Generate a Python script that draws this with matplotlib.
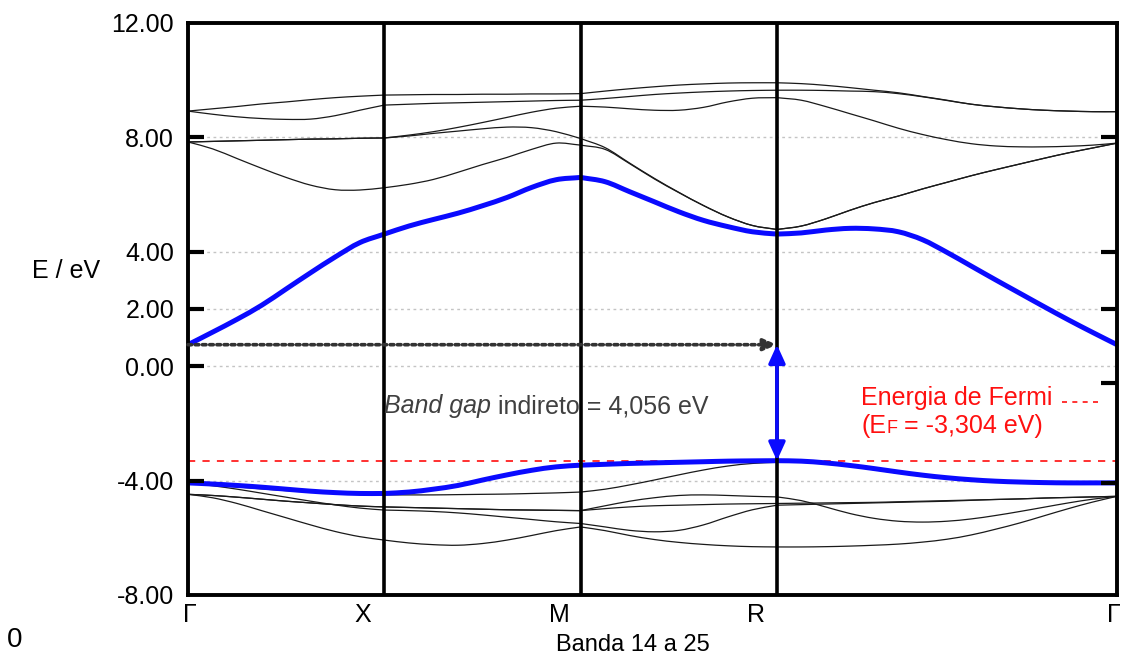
import numpy as np
import matplotlib
matplotlib.use("Agg")
import matplotlib.pyplot as plt
from matplotlib.path import Path
from matplotlib.patches import PathPatch
import matplotlib.transforms as mtransforms

plt.rcParams['font.family'] = ['Liberation Sans', 'DejaVu Sans']

# high-symmetry path of the simple cubic Brillouin zone
sym_labels = ['Γ', 'X', 'M', 'R', 'Γ']
sym_k = [0.0, 0.5, 1.0, 1.5, 1.5 + np.sqrt(3) / 2]
seg_steps = [8, 8, 8, 14]          # samples per segment

# band energies (eV) along Γ-X | X-M | M-R | R-Γ
band_A = [8.92, 9.00, 9.08, 9.17, 9.24, 9.32, 9.39, 9.44, 9.48,
          9.49, 9.50, 9.50, 9.51, 9.51, 9.52, 9.52, 9.53,
          9.62, 9.70, 9.77, 9.83, 9.87, 9.90, 9.91, 9.91,
          9.88, 9.82, 9.74, 9.65, 9.56, 9.43, 9.30, 9.16, 9.07, 9.00, 8.95, 8.92, 8.90, 8.90]
band_B = [8.92, 8.81, 8.72, 8.66, 8.63, 8.64, 8.76, 8.95, 9.13,
          9.16, 9.19, 9.21, 9.23, 9.25, 9.27, 9.29, 9.30,
          9.36, 9.43, 9.50, 9.55, 9.59, 9.62, 9.64, 9.65,
          9.65, 9.64, 9.62, 9.60, 9.53, 9.42, 9.29, 9.16, 9.07, 9.00, 8.95, 8.92, 8.90, 8.90]
band_C1 = [7.84, 7.86, 7.88, 7.90, 7.92, 7.94, 7.95, 7.97, 7.98,
           8.08, 8.20, 8.35, 8.52, 8.70, 8.88, 9.02, 9.09,
           9.06, 9.00, 8.95, 8.95, 9.05, 9.24, 9.37, 9.39,
           9.30, 9.08, 8.83, 8.58, 8.32, 8.10, 7.92, 7.78, 7.70, 7.67, 7.67, 7.69, 7.73, 7.80]
band_C2 = [7.84, 7.86, 7.88, 7.90, 7.92, 7.94, 7.95, 7.97, 7.98,
           8.05, 8.14, 8.22, 8.30, 8.36, 8.34, 8.20, 7.96,
           7.64, 7.10, 6.57, 6.08, 5.62, 5.22, 4.92, 4.78,
           4.90, 5.15, 5.45, 5.72, 5.95, 6.20, 6.43, 6.66, 6.87, 7.07, 7.27, 7.46, 7.63, 7.80]
band_D = [7.84, 7.60, 7.26, 6.92, 6.60, 6.33, 6.17, 6.16, 6.24,
          6.36, 6.53, 6.78, 7.05, 7.30, 7.58, 7.80, 7.73,
          7.58, 7.08, 6.55, 6.07, 5.62, 5.22, 4.92, 4.78,
          4.90, 5.15, 5.45, 5.72, 5.95, 6.20, 6.43, 6.66, 6.87, 7.07, 7.27, 7.46, 7.63, 7.80]
band_CB = [0.752, 1.19, 1.64, 2.13, 2.70, 3.27, 3.82, 4.32, 4.62,
           4.90, 5.13, 5.35, 5.61, 5.90, 6.25, 6.52, 6.60,
           6.45, 6.10, 5.75, 5.40, 5.10, 4.88, 4.70, 4.62,
           4.66, 4.76, 4.82, 4.80, 4.70, 4.42, 3.98, 3.50, 3.02, 2.55, 2.08, 1.62, 1.18, 0.752]
band_VB = [-4.08, -4.12, -4.17, -4.23, -4.30, -4.37, -4.42, -4.45, -4.45,
           -4.40, -4.30, -4.17, -3.98, -3.80, -3.64, -3.52, -3.46,
           -3.43, -3.40, -3.38, -3.36, -3.34, -3.32, -3.31, -3.304,
           -3.32, -3.38, -3.47, -3.58, -3.70, -3.81, -3.90, -3.97, -4.02, -4.05, -4.07, -4.08, -4.08, -4.08]
band_V2 = [-4.08, -4.15, -4.22, -4.29, -4.35, -4.40, -4.45, -4.48, -4.50,
           -4.50, -4.50, -4.49, -4.48, -4.47, -4.45, -4.43, -4.40,
           -4.30, -4.15, -3.98, -3.80, -3.63, -3.49, -3.40, -3.36,
           -3.36, -3.40, -3.50, -3.62, -3.74, -3.85, -3.94, -4.00, -4.04, -4.06, -4.08, -4.08, -4.08, -4.08]
band_V3 = [-4.48, -4.52, -4.58, -4.65, -4.72, -4.78, -4.84, -4.89, -4.92,
           -4.94, -4.96, -4.98, -5.00, -5.02, -5.03, -5.04, -5.05,
           -4.88, -4.72, -4.60, -4.52, -4.50, -4.52, -4.55, -4.57,
           -4.70, -4.92, -5.15, -5.32, -5.42, -5.45, -5.42, -5.34, -5.22, -5.08, -4.93, -4.78, -4.65, -4.55]
band_V4 = [-4.48, -4.52, -4.58, -4.65, -4.72, -4.78, -4.84, -4.89, -4.92,
           -4.94, -4.96, -4.98, -5.00, -5.02, -5.03, -5.04, -5.05,
           -4.98, -4.92, -4.88, -4.86, -4.84, -4.82, -4.81, -4.80,
           -4.79, -4.78, -4.77, -4.76, -4.74, -4.72, -4.70, -4.68, -4.66, -4.64, -4.61, -4.59, -4.57, -4.55]
band_V5 = [-4.48, -4.60, -4.80, -5.05, -5.30, -5.55, -5.78, -5.96, -6.08,
           -6.18, -6.24, -6.26, -6.20, -6.08, -5.92, -5.75, -5.62,
           -5.75, -5.92, -6.06, -6.16, -6.23, -6.28, -6.31, -6.32,
           -6.32, -6.31, -6.29, -6.26, -6.22, -6.15, -6.05, -5.90, -5.70, -5.48, -5.23, -4.98, -4.75, -4.55]
band_V6 = [-4.08, -4.18, -4.30, -4.44, -4.58, -4.72, -4.85, -4.96, -5.03,
           -5.05, -5.08, -5.13, -5.20, -5.28, -5.36, -5.44, -5.50,
           -5.62, -5.74, -5.79, -5.74, -5.55, -5.27, -5.02, -4.86,
           -4.84, -4.82, -4.80, -4.78, -4.76, -4.74, -4.72, -4.69, -4.66, -4.64, -4.61, -4.59, -4.57, -4.55]

thin_bands = [band_A, band_B, band_C1, band_C2, band_D,
              band_V2, band_V3, band_V4, band_V5, band_V6]
bold_bands = [band_CB, band_VB]

E_fermi = -3.304
gap = 4.056
E_cbm = E_fermi + gap

y_ticks = [12, 8, 4, 2, 0, -4, -8]
y_grid = [8, 4, 2, 0, -4]
right_ticks = [8, 4, 2, -0.6, -4.1]


def k_axis():
    ks = [sym_k[0]]
    for a, b, n in zip(sym_k[:-1], sym_k[1:], seg_steps):
        ks.extend(list(np.linspace(a, b, n + 1)[1:]))
    return np.array(ks)


def smooth_path(ks, es):
    """Cubic Bezier path through the samples, broken at high-symmetry points."""
    verts = [(ks[0], es[0])]
    codes = [Path.MOVETO]
    start = 0
    for n in seg_steps:
        xs = ks[start:start + n + 1]
        ys = np.asarray(es[start:start + n + 1], float)
        dx = np.gradient(xs)
        dy = np.gradient(ys)
        for i in range(n):
            h = xs[i + 1] - xs[i]
            s0 = dy[i] / dx[i]
            s1 = dy[i + 1] / dx[i + 1]
            verts += [(xs[i] + h / 3, ys[i] + s0 * h / 3),
                      (xs[i + 1] - h / 3, ys[i + 1] - s1 * h / 3),
                      (xs[i + 1], ys[i + 1])]
            codes += [Path.CURVE4] * 3
        start += n
    return Path(verts, codes)


fig = plt.figure(figsize=(11.22, 6.57), dpi=100)
ax = fig.add_axes([188 / 1122, 62 / 657, 929 / 1122, 572 / 657])
ax.set_xlim(sym_k[0], sym_k[-1])
ax.set_ylim(-8, 12)
renderer = fig.canvas.get_renderer()


def run_text(x, y, pieces):
    """Write styled pieces one after another on a common baseline (data coords)."""
    x_disp, y_disp = ax.transData.transform((x, y))
    for txt, kw in pieces:
        t = ax.text(x_disp, y_disp, txt, transform=None, ha='left', va='baseline', **kw)
        x_disp = t.get_window_extent(renderer).x1


ks = k_axis()

for e in y_grid:
    ax.axhline(e, color='#c4c4c4', lw=1.0, ls=(0, (2, 2.5)), zorder=1)

ax.axhline(E_fermi, color='#ff2020', lw=1.3, ls=(0, (4, 4)), zorder=2)

for b in thin_bands:
    ax.add_patch(PathPatch(smooth_path(ks, b), fill=False, ec='#1a1a1a', lw=0.9, zorder=3))
for b in bold_bands:
    ax.add_patch(PathPatch(smooth_path(ks, b), fill=False, ec='#0a0aff', lw=3.6,
                           capstyle='round', joinstyle='round', zorder=4))

for k in sym_k[1:-1]:
    ax.axvline(k, color='black', lw=2.6, zorder=5)

for side in ax.spines.values():
    side.set_linewidth(2.8)
    side.set_zorder(6)

# y axis
ax.set_yticks(y_ticks)
ax.set_yticklabels(['%.2f' % v for v in y_ticks], fontsize=18)
ax.tick_params(axis='y', direction='in', length=0, pad=10)
ax.set_xticks([])
for e in y_grid:
    ax.plot([0, 0.017], [e, e], transform=ax.get_yaxis_transform(), color='black',
            lw=3, solid_capstyle='butt', zorder=6, clip_on=False)
for e in right_ticks:
    ax.plot([0.983, 1.0], [e, e], transform=ax.get_yaxis_transform(), color='black',
            lw=3, solid_capstyle='butt', zorder=6, clip_on=False)

# k-point labels
offsets = [2, -22, -21, -21, -3]
for lab, k, dx in zip(sym_labels, sym_k, offsets):
    tr = ax.transData + mtransforms.ScaledTranslation(dx / 100, -8 / 100, fig.dpi_scale_trans)
    ax.text(k, -8, lab, transform=tr, fontsize=18, ha='center', va='top')

fig.text(66 / 1122, 1 - 271 / 657, 'E / eV', fontsize=18, ha='center', va='center')
fig.text(633 / 1122, 1 - 645 / 657, 'Banda 14 a 25', fontsize=17, ha='center', va='center')
fig.text(15 / 1122, 1 - 640 / 657, '0', fontsize=20, ha='center', va='center')

# indirect gap: Γ (CBM) -> R (VBM)
ax.annotate('', xy=(sym_k[3], E_cbm), xytext=(sym_k[0], E_cbm),
            arrowprops=dict(arrowstyle='-|>,head_length=0.8,head_width=0.35', color='#333333',
                            lw=2.6, ls=(0, (1, 1)), shrinkA=0, shrinkB=0), zorder=7)
ax.annotate('', xy=(sym_k[3], E_fermi), xytext=(sym_k[3], E_cbm),
            arrowprops=dict(arrowstyle='<|-|>,head_length=1.1,head_width=0.5', color='#0a0aff',
                            lw=2.6, shrinkA=0, shrinkB=0), zorder=7)

grey = '#404040'
run_text(0.5, -1.64, [('Band gap', dict(fontsize=18, style='italic', color=grey, zorder=8)),
                      (' indireto = 4,056 eV', dict(fontsize=18, color=grey, zorder=8))])

red = '#ff1010'
run_text(1.715, -1.35, [('Energia de Fermi', dict(fontsize=18, color=red, zorder=8))])
ax.plot([2.226, 2.322], [-1.25, -1.25], color=red, lw=1.2, ls=(0, (3, 3.2)), zorder=8)
run_text(1.715, -2.35, [('(E', dict(fontsize=18, color=red, zorder=8)),
                        ('F', dict(fontsize=13, color=red, zorder=8)),
                        (' = -3,304 eV)', dict(fontsize=18, color=red, zorder=8))])

fig.savefig('out.png', dpi=100)
